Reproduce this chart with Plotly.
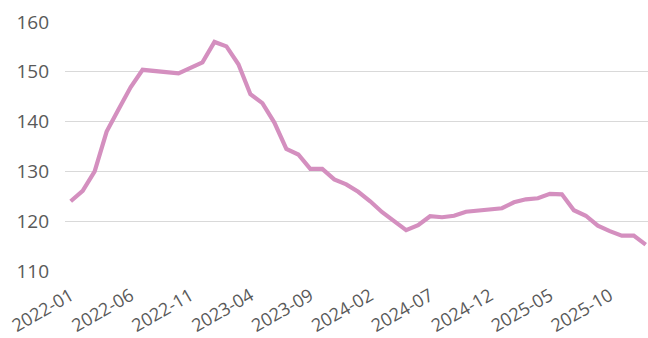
import plotly.graph_objects as go

# Monthly index values, 2022-01 .. 2026-01
months = [
    "2022-01", "2022-02", "2022-03", "2022-04", "2022-05", "2022-06",
    "2022-07", "2022-08", "2022-09", "2022-10", "2022-11", "2022-12",
    "2023-01", "2023-02", "2023-03", "2023-04", "2023-05", "2023-06",
    "2023-07", "2023-08", "2023-09", "2023-10", "2023-11", "2023-12",
    "2024-01", "2024-02", "2024-03", "2024-04", "2024-05", "2024-06",
    "2024-07", "2024-08", "2024-09", "2024-10", "2024-11", "2024-12",
    "2025-01", "2025-02", "2025-03", "2025-04", "2025-05", "2025-06",
    "2025-07", "2025-08", "2025-09", "2025-10", "2025-11", "2025-12",
    "2026-01",
]
values = [
    124.0, 126.1, 130.0, 138.0, 142.5, 146.9,
    150.4, 150.1, 149.8, 149.7, 150.8, 151.9,
    156.0, 155.1, 151.5, 145.5, 143.7, 139.8,
    134.5, 133.4, 130.5, 130.5, 128.4, 127.4,
    125.9, 124.0, 121.8, 120.0, 118.2, 119.2,
    121.0, 120.8, 121.1, 121.9, 122.2, 122.4,
    122.6, 123.8, 124.4, 124.6, 125.5, 125.4,
    122.2, 121.1, 119.1, 118.0, 117.1, 117.1,
    115.3,
]
tick_labels = months[::5]
y_ticks = [110, 120, 130, 140, 150, 160]

fig = go.Figure(
    go.Scatter(
        x=months,
        y=values,
        mode="lines",
        line=dict(color="#d48fbf", width=4.2),
        hoverinfo="skip",
    )
)

fig.update_layout(
    width=648,
    height=338,
    margin=dict(l=65, r=0, t=22, b=67),
    paper_bgcolor="white",
    plot_bgcolor="white",
    showlegend=False,
    font=dict(family="Open Sans, sans-serif", color="#595959"),
)

fig.update_xaxes(
    type="category",
    range=[-0.476, 48.19],
    tickmode="array",
    tickvals=tick_labels,
    ticktext=tick_labels,
    tickangle=-30,
    tickfont=dict(size=18, color="#595959"),
    showgrid=False,
    showline=False,
    zeroline=False,
    ticks="",
    ticklabelstandoff=10,
)

fig.update_yaxes(
    range=[110, 160],
    tickvals=y_ticks,
    tickfont=dict(size=19, color="#595959"),
    showgrid=True,
    gridcolor="#d9d9d9",
    gridwidth=1.3,
    zeroline=False,
    showline=False,
    ticks="",
    ticklabelstandoff=15,
)

fig.write_html("out.html")
